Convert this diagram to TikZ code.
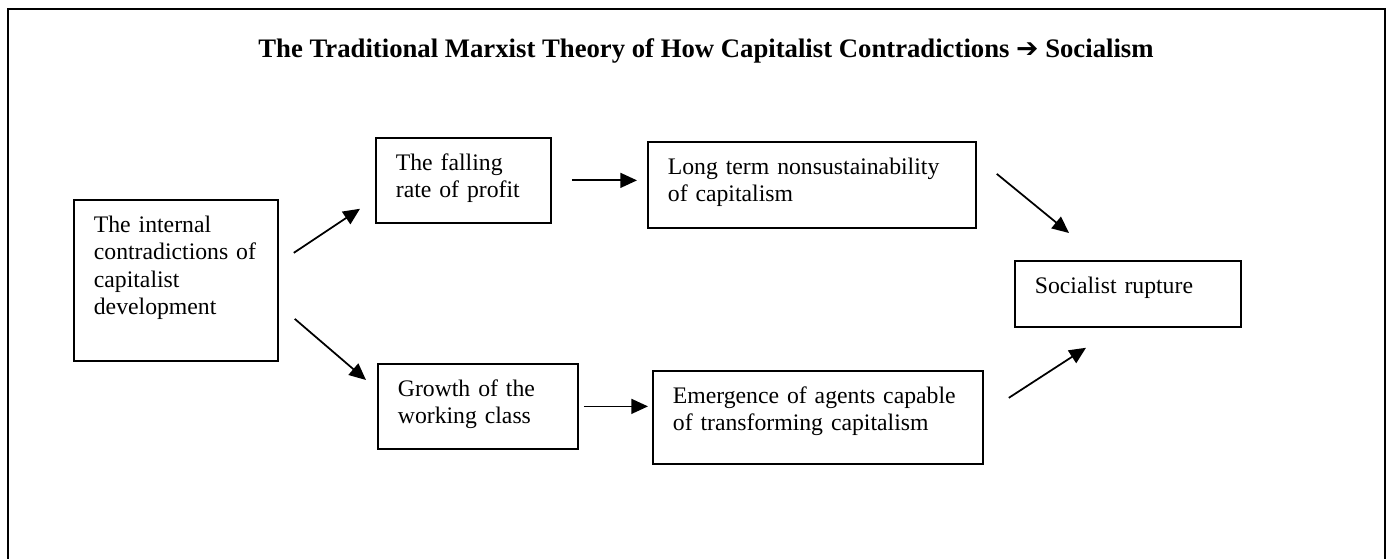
\documentclass[tikz,border=0pt]{standalone}
\usepackage{fontspec}
\setmainfont{Liberation Serif}
\newfontfamily\arrowfont{DejaVu Sans}
\usepackage{tikz}
\usetikzlibrary{arrows.meta, positioning, calc}

\begin{document}
\begin{tikzpicture}[
        stage/.style={rectangle, draw, line width=1pt, anchor=north west, align=left, inner xsep=0.4cm, inner ysep=0.35cm, text height=0.31cm, font=\fontsize{13.5}{15.4}\selectfont},
        arrow/.style={-{Triangle[length=9.5pt, width=8.5pt]}, line width=1pt}
    ]

        % page and outer frame
        \useasboundingbox (0,0) rectangle (27.72,-11.18);
        \draw[line width=1.2pt] (0.16,-0.18) rectangle (27.7,-11.8);

        % --- Title ---
        \node[anchor=base, font=\fontsize{15.2}{18}\selectfont\bfseries] (title) at (14.12,-1.16) {The Traditional Marxist Theory of How Capitalist Contradictions {\arrowfont\symbol{"2794}} Socialism};

        % --- Stages ---
        \node[stage, text width=3.28cm, text depth=2.21cm] (contra) at (1.46,-3.98) {The internal\\contradictions of\\capitalist\\development};
        \node[stage, text width=2.7cm, text depth=0.69cm] (profit) at (7.5,-2.74) {The falling\\rate of profit};
        \node[stage, text width=5.76cm, text depth=0.71cm] (nonsust) at (12.94,-2.82) {Long term nonsustainability\\of capitalism};
        \node[stage, text width=3.2cm, text depth=0.69cm] (workers) at (7.54,-7.26) {Growth of the\\working class};
        \node[stage, text width=5.8cm, text depth=0.85cm] (agents) at (13.04,-7.4) {Emergence of agents capable\\of transforming capitalism};
        \node[stage, text width=3.72cm, text depth=0.31cm] (rupture) at (20.28,-5.2) {Socialist rupture};

        % --- Connections ---
        \draw[arrow] ([shift={(0.3,0.55)}]contra.east) -- ([shift={(-0.3,0.3)}]profit.south west);
        \draw[arrow] ([shift={(0.32,-0.77)}]contra.east) -- ([shift={(-0.22,-0.34)}]workers.north west);
        \draw[arrow] ([xshift=0.4cm]profit.east) -- ([xshift=-0.2cm]profit.east -| nonsust.west);
        \draw[arrow] ([xshift=0.1cm]workers.east) -- ([xshift=-0.08cm]workers.east -| agents.west);
        \draw[arrow] ([shift={(0.4,0.22)}]nonsust.east) -- ([shift={(1.1,0.54)}]rupture.north west);
        \draw[arrow] ([shift={(0.5,0.39)}]agents.east) -- ([shift={(1.44,-0.4)}]rupture.south west);

    \end{tikzpicture}
\end{document}
